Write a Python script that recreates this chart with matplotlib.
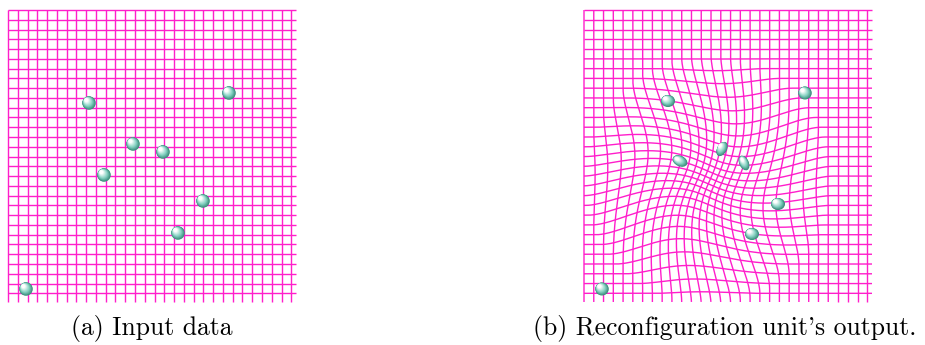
import numpy as np
import matplotlib.pyplot as plt
from matplotlib.patches import Ellipse
from matplotlib.colors import to_rgb

# sphere centres (pixel positions)
in_x = [89, 229, 133, 163, 104, 203, 178, 26]
in_y = [103, 93, 144, 152, 175, 201, 233, 289]
out_x = [668, 805, 722, 680, 744, 778, 752, 602]
out_y = [101, 93, 149, 161, 163, 204, 234, 289]
captions = ["(a) Input data", "(b) Reconfiguration unit's output."]

# ball shapes in the output panel (width, height, angle)
out_w = [14, 13.5, 9.5, 15.5, 9.5, 14, 14, 13.5]
out_h = [12, 13, 15.5, 10.5, 15.5, 12, 12, 13]
out_a = [0, 0, 30, 25, -25, 0, 0, 0]

# grid / warp settings
n_lines = 30
step = 9.77
span_x = 288
span_y = 292
warp_c = (124, 170)
warp_r = 125
warp_shrink = 0.42
warp_turn = np.radians(24)

GRID = "#ff1ecb"
DARK = np.array(to_rgb("#3a8c7c"))
MID = np.array(to_rgb("#86d2c2"))
LIGHT = np.array([1.0, 1.0, 1.0])


def warp(u, v):
    dx = u - warp_c[0]
    dy = v - warp_c[1]
    q = np.clip(1 - (dx**2 + dy**2) / warp_r**2, 0, None)
    g = q**2
    s = 1 - warp_shrink * g
    th = warp_turn * g
    nx = (dx * np.cos(th) - dy * np.sin(th)) * s
    ny = (dx * np.sin(th) + dy * np.cos(th)) * s
    return warp_c[0] + nx, warp_c[1] + ny


def draw_grid(ax, x0, y0, warped):
    tx = np.linspace(0, span_x, 400)
    ty = np.linspace(0, span_y, 400)
    for k in range(n_lines):
        p = k * step
        # vertical line
        u, v = np.full_like(ty, p), ty
        if warped:
            u, v = warp(u, v)
        ax.plot(x0 + u, y0 + v, color=GRID, lw=1.0, solid_capstyle="butt")
        # horizontal line
        u, v = tx, np.full_like(tx, p)
        if warped:
            u, v = warp(u, v)
        ax.plot(x0 + u, y0 + v, color=GRID, lw=1.0, solid_capstyle="butt")


def ball(ax, x, y, w, h, ang):
    n = 16
    for i in range(n):
        t = i / (n - 1)
        k = 1 - 0.9 * t
        if t < 0.35:
            col = DARK + (MID - DARK) * (t / 0.35)
        else:
            col = MID + (LIGHT - MID) * min(1, (t - 0.35) / 0.45)
        ax.add_patch(Ellipse((x - 0.24 * w * t, y - 0.26 * h * t), w * k, h * k,
                             angle=ang, color=col, lw=0, zorder=3))


fig = plt.figure(figsize=(9.25, 3.45), dpi=100)
ax = fig.add_axes([0, 0, 1, 1])
ax.set_xlim(0, 925)
ax.set_ylim(345, 0)
ax.axis("off")

draw_grid(ax, 8, 10, False)
draw_grid(ax, 584, 10, True)

for x, y in zip(in_x, in_y):
    ball(ax, x, y, 13.5, 13.5, 0)
for x, y, w, h, a in zip(out_x, out_y, out_w, out_h, out_a):
    ball(ax, x, y, w, h, a)

ax.text(152, 328, captions[0], ha="center", va="center", fontsize=18.5,
        family=["cmr10", "DejaVu Serif"])
ax.text(725, 328, captions[1], ha="center", va="center", fontsize=18.5,
        family=["cmr10", "DejaVu Serif"])

fig.savefig("out.png", dpi=100)
